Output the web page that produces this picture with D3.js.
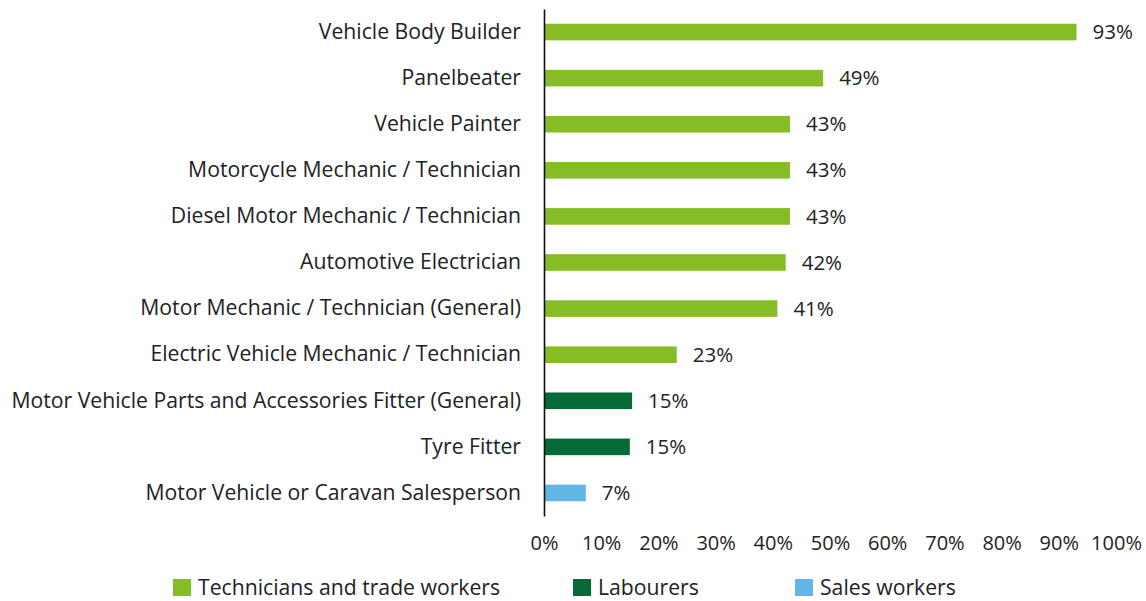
<!DOCTYPE html>
<html>
<head>
<meta charset="utf-8">
<script src="https://cdn.jsdelivr.net/npm/d3@7"></script>
<style>
  body { margin: 0; background: #fff; }
  svg { font-family: "Open Sans", sans-serif; }
  .axis text { font-size: 20px; fill: #222; font-family: "Open Sans", sans-serif; }
  .axis--y text { font-size: 21.2px; }
</style>
</head>
<body>
<svg width="1146" height="601"></svg>
<script>
// occupations, top to bottom
var occupations = [
  "Vehicle Body Builder",
  "Panelbeater",
  "Vehicle Painter",
  "Motorcycle Mechanic / Technician",
  "Diesel Motor Mechanic / Technician",
  "Automotive Electrician",
  "Motor Mechanic / Technician (General)",
  "Electric Vehicle Mechanic / Technician",
  "Motor Vehicle Parts and Accessories Fitter (General)",
  "Tyre Fitter",
  "Motor Vehicle or Caravan Salesperson"
];
var shares = [0.931, 0.488, 0.43, 0.43, 0.43, 0.4225, 0.408, 0.232, 0.154, 0.15, 0.073];
var groups = ["Technicians and trade workers", "Technicians and trade workers",
  "Technicians and trade workers", "Technicians and trade workers",
  "Technicians and trade workers", "Technicians and trade workers",
  "Technicians and trade workers", "Technicians and trade workers",
  "Labourers", "Labourers", "Sales workers"];
var groupNames = ["Technicians and trade workers", "Labourers", "Sales workers"];
var xTicks = [0, 0.1, 0.2, 0.3, 0.4, 0.5, 0.6, 0.7, 0.8, 0.9, 1];

var data = occupations.map(function(d, i) {
  return { name: d, value: shares[i], group: groups[i] };
});

var svg = d3.select("svg");

var x = d3.scaleLinear().domain([0, 1]).range([544, 1116]);
var y = d3.scaleBand().domain(occupations).range([9, 516])
  .paddingInner(0.64).paddingOuter(0.32);

var colours = d3.scaleOrdinal()
  .domain(groupNames)
  .range(["#86bc25", "#046a38", "#62b5e5"]);

// BARS
svg.selectAll(".bar")
  .data(data)
  .enter().append("rect")
  .attr("class", "bar")
  .attr("x", x(0))
  .attr("y", function(d) { return y(d.name); })
  .attr("width", function(d) { return x(d.value) - x(0); })
  .attr("height", y.bandwidth())
  .attr("fill", function(d) { return colours(d.group); });

// VALUE LABELS
svg.selectAll(".val")
  .data(data)
  .enter().append("text")
  .attr("class", "val")
  .attr("x", function(d) { return x(d.value) + 16; })
  .attr("y", function(d) { return y(d.name) + y.bandwidth() / 2; })
  .attr("dy", "0.35em")
  .attr("font-size", 20.5)
  .attr("fill", "#222")
  .text(function(d) { return Math.round(d.value * 100) + "%"; });

// AXES
var yAxis = svg.append("g")
  .attr("class", "axis axis--y")
  .attr("transform", "translate(" + x(0) + ",0)")
  .call(d3.axisLeft(y).tickSize(0).tickPadding(23));
yAxis.select(".domain").attr("stroke", "#111").attr("stroke-width", 1.6);

var xAxis = svg.append("g")
  .attr("class", "axis axis--x")
  .attr("transform", "translate(0,536)")
  .call(d3.axisBottom(x).tickValues(xTicks).tickSize(0).tickPadding(0)
    .tickFormat(d3.format(".0%")));
xAxis.select(".domain").remove();

// LEGEND
var legendX = [173, 573, 795];
var legend = svg.selectAll(".legend")
  .data(groupNames)
  .enter().append("g")
  .attr("class", "legend")
  .attr("transform", function(d, i) { return "translate(" + legendX[i] + ",579)"; });
legend.append("rect")
  .attr("width", 18).attr("height", 17)
  .attr("fill", function(d) { return colours(d); });
legend.append("text")
  .attr("x", 25).attr("y", 9)
  .attr("dy", "0.35em")
  .attr("font-size", 21.2)
  .attr("fill", "#222")
  .text(function(d) { return d; });
</script>
</body>
</html>
